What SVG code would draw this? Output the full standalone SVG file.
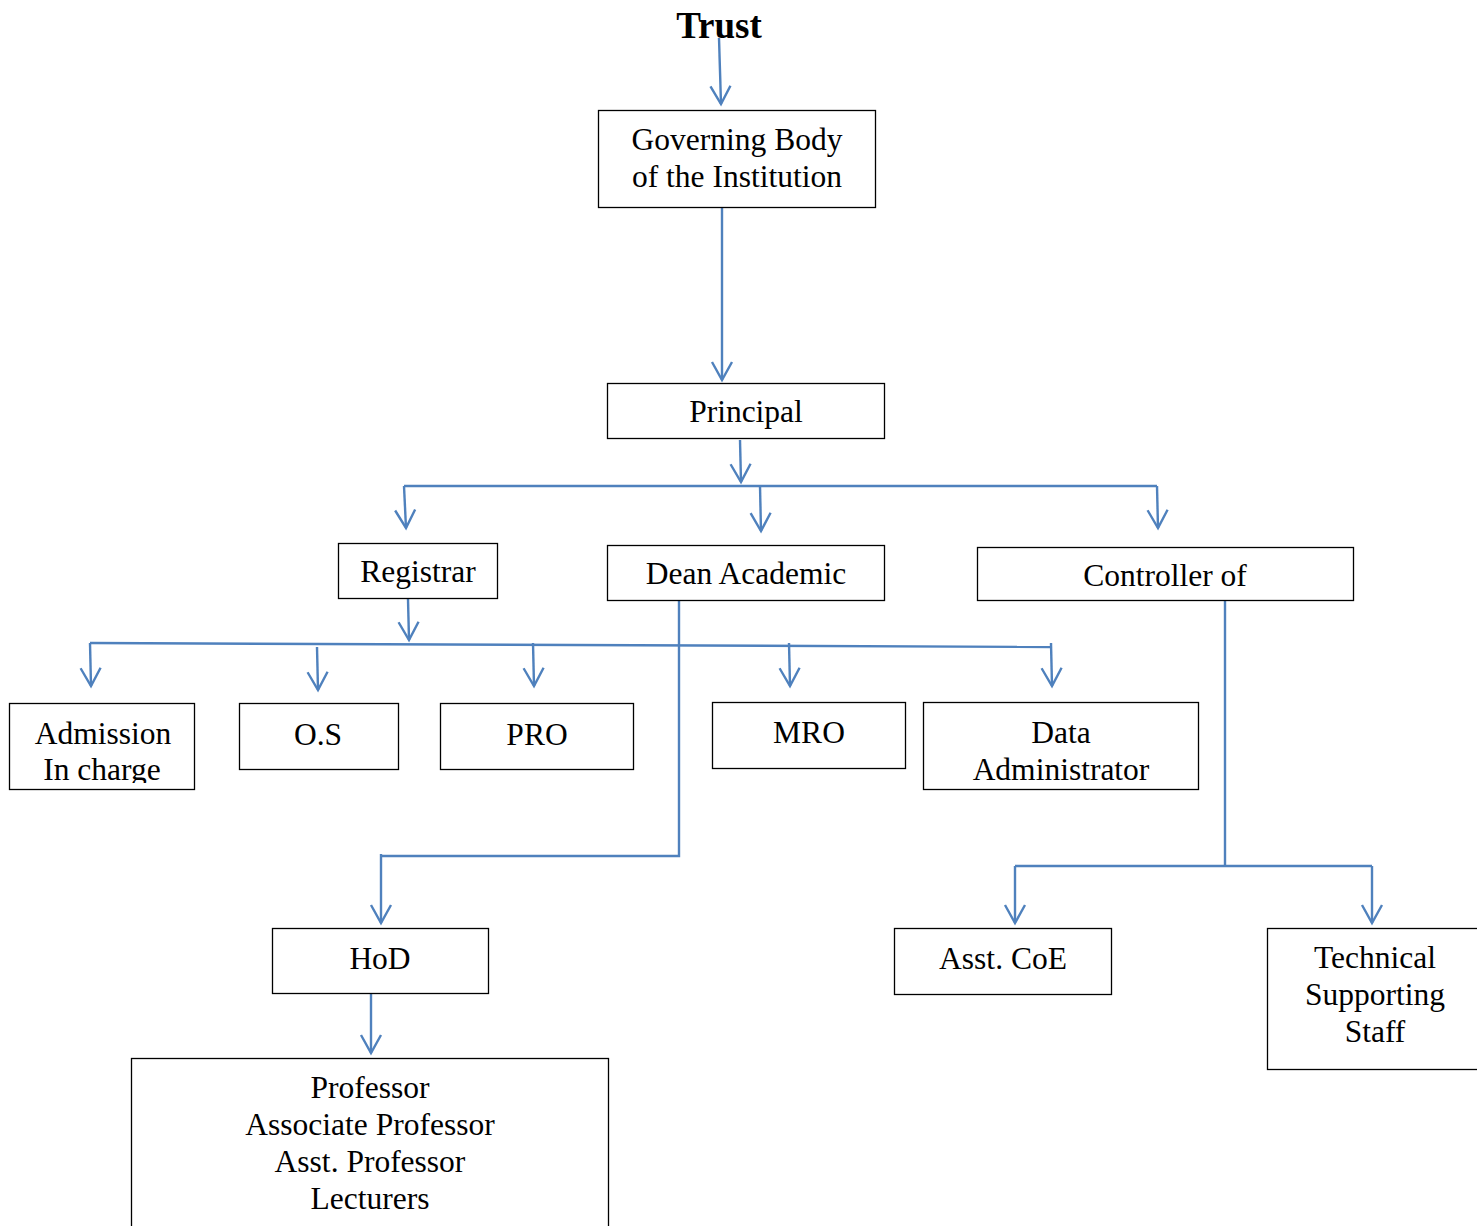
<svg xmlns="http://www.w3.org/2000/svg" width="1477" height="1226" viewBox="0 0 1477 1226">
<style>
.box{fill:#fff;stroke:#000;stroke-width:1.3}
.t{font-family:"Liberation Serif","Times New Roman",serif;font-size:31.5px;fill:#000;text-anchor:middle}
.c{fill:none;stroke:#4f81bd;stroke-width:2.4}
.a{marker-end:url(#arr)}
</style>
<defs>
<marker id="arr" markerUnits="userSpaceOnUse" viewBox="-21 -12 23 24" markerWidth="23" markerHeight="24" refX="0" refY="0" orient="auto" overflow="visible">
<path d="M-18,-10 L0,0 L-18,10" fill="none" stroke="#4f81bd" stroke-width="2.4"/>
</marker>
<clipPath id="clipAdm"><rect x="9" y="703" width="186" height="80"/></clipPath>
</defs>
<rect width="1477" height="1226" fill="#fff"/>

<g id="connectors">
<path class="c a" d="M719,38 L721,104"/>
<path class="c a" d="M722,208 L722,380"/>
<path class="c a" d="M740,440 L741,482"/>
<path class="c" d="M404,486 L1157,486"/>
<path class="c a" d="M404,486 L406,528"/>
<path class="c a" d="M760,486 L761,531"/>
<path class="c a" d="M1157,486 L1158,528"/>
<path class="c a" d="M408,599 L409,640"/>
<path class="c" d="M90,643 L1051,647"/>
<path class="c a" d="M90,643 L91,686"/>
<path class="c a" d="M317,647 L318,690"/>
<path class="c a" d="M533,643 L534,686"/>
<path class="c a" d="M789,643 L790,686"/>
<path class="c a" d="M1051,643 L1052,686"/>
<path class="c" d="M679,601 L679,856 L381,856"/>
<path class="c a" d="M381,854 L381,923"/>
<path class="c" d="M1225,601 L1225,866"/>
<path class="c" d="M1015,866 L1372,866"/>
<path class="c a" d="M1015,866 L1015,923"/>
<path class="c a" d="M1372,866 L1372,923"/>
<path class="c a" d="M371,994 L371,1053"/>
</g>

<g id="trust"><text x="719" y="38" class="t" style="font-weight:bold;font-size:37px">Trust</text></g>

<g id="governing-body">
<rect class="box" x="598.5" y="110.5" width="277" height="97"/>
<text class="t" x="737" y="150">Governing Body</text>
<text class="t" x="737" y="187">of the Institution</text>
</g>

<g id="principal">
<rect class="box" x="607.5" y="383.5" width="277" height="55"/>
<text class="t" x="746" y="422">Principal</text>
</g>

<g id="registrar">
<rect class="box" x="338.5" y="543.5" width="159" height="55"/>
<text class="t" x="418" y="582">Registrar</text>
</g>

<g id="dean-academic">
<rect class="box" x="607.5" y="545.5" width="277" height="55"/>
<text class="t" x="746" y="584">Dean Academic</text>
</g>

<g id="controller">
<rect class="box" x="977.5" y="547.5" width="376" height="53"/>
<text class="t" x="1165" y="586">Controller of</text>
</g>

<g id="admission">
<rect class="box" x="9.5" y="703.5" width="185" height="86"/>
<g clip-path="url(#clipAdm)">
<text class="t" x="103" y="744">Admission</text>
<text class="t" x="102" y="780">In charge</text>
</g>
</g>

<g id="os">
<rect class="box" x="239.5" y="703.5" width="159" height="66"/>
<text class="t" x="318" y="745">O.S</text>
</g>

<g id="pro">
<rect class="box" x="440.5" y="703.5" width="193" height="66"/>
<text class="t" x="537" y="745">PRO</text>
</g>

<g id="mro">
<rect class="box" x="712.5" y="702.5" width="193" height="66"/>
<text class="t" x="809" y="743">MRO</text>
</g>

<g id="data-administrator">
<rect class="box" x="923.5" y="702.5" width="275" height="87"/>
<text class="t" x="1061" y="743">Data</text>
<text class="t" x="1061" y="780">Administrator</text>
</g>

<g id="hod">
<rect class="box" x="272.5" y="928.5" width="216" height="65"/>
<text class="t" x="380" y="969">HoD</text>
</g>

<g id="faculty">
<rect class="box" x="131.5" y="1058.5" width="477" height="180"/>
<text class="t" x="370" y="1098">Professor</text>
<text class="t" x="370" y="1135">Associate Professor</text>
<text class="t" x="370" y="1172">Asst. Professor</text>
<text class="t" x="370" y="1209">Lecturers</text>
</g>

<g id="asst-coe">
<rect class="box" x="894.5" y="928.5" width="217" height="66"/>
<text class="t" x="1003" y="969">Asst. CoE</text>
</g>

<g id="technical-staff">
<rect class="box" x="1267.5" y="928.5" width="220" height="141"/>
<text class="t" x="1375" y="968">Technical</text>
<text class="t" x="1375" y="1005">Supporting</text>
<text class="t" x="1375" y="1042">Staff</text>
</g>
</svg>
